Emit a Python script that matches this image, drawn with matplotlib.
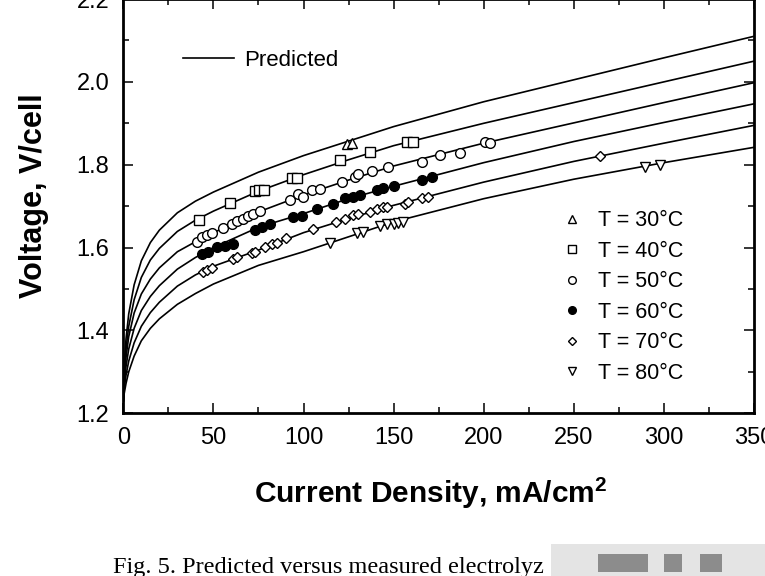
import numpy as np
import matplotlib.pyplot as plt
from matplotlib.lines import Line2D
from matplotlib.patches import Rectangle

plt.rcParams['font.family'] = ['Liberation Sans', 'DejaVu Sans']
plt.rcParams['mathtext.fontset'] = 'custom'
plt.rcParams['mathtext.rm'] = 'Liberation Sans'
plt.rcParams['mathtext.bf'] = 'Liberation Sans:bold'

# predicted curves (current density in mA/cm2, voltage in V/cell)
i_pred = [0, 0.5, 1.5, 3, 6, 10, 15, 20, 30, 40, 50, 75, 100, 125, 150, 200, 250, 300, 350]
v_pred_30 = [1.230, 1.320, 1.380, 1.440, 1.510, 1.568, 1.612, 1.642, 1.684, 1.712, 1.734, 1.782, 1.822, 1.857, 1.892, 1.952, 2.005, 2.058, 2.110]
v_pred_40 = [1.230, 1.302, 1.355, 1.410, 1.474, 1.528, 1.570, 1.598, 1.639, 1.666, 1.688, 1.736, 1.776, 1.812, 1.846, 1.900, 1.950, 2.000, 2.050]
v_pred_50 = [1.230, 1.285, 1.335, 1.385, 1.442, 1.488, 1.524, 1.551, 1.590, 1.614, 1.636, 1.686, 1.727, 1.763, 1.797, 1.852, 1.901, 1.950, 1.998]
v_pred_60 = [1.230, 1.272, 1.313, 1.355, 1.405, 1.448, 1.482, 1.508, 1.548, 1.576, 1.600, 1.649, 1.682, 1.718, 1.748, 1.805, 1.856, 1.902, 1.947]
v_pred_70 = [1.230, 1.260, 1.292, 1.326, 1.370, 1.410, 1.443, 1.468, 1.507, 1.534, 1.555, 1.594, 1.636, 1.670, 1.702, 1.758, 1.808, 1.852, 1.895]
v_pred_80 = [1.230, 1.248, 1.272, 1.300, 1.338, 1.375, 1.405, 1.428, 1.463, 1.489, 1.512, 1.557, 1.590, 1.626, 1.662, 1.718, 1.765, 1.805, 1.842]

# measured points
i_30 = [124, 127]
v_30 = [1.850, 1.853]
i_40 = [41.8, 59.2, 73, 75.5, 78, 93.4, 96.2, 120, 137, 157.3, 161]
v_40 = [1.667, 1.708, 1.736, 1.738, 1.738, 1.767, 1.769, 1.811, 1.831, 1.855, 1.855]
i_50 = [40.7, 43.4, 46.2, 49, 55.5, 60.1, 62.9, 66.6, 69.3, 72.1, 75.8, 92.5, 97.1, 99.9,
        104.6, 109.2, 121.2, 128.6, 130.4, 137.9, 147.1, 165.7, 175.8, 186.9, 200.8, 203.6]
v_50 = [1.614, 1.626, 1.630, 1.636, 1.648, 1.658, 1.665, 1.670, 1.676, 1.681, 1.689, 1.714, 1.729, 1.722,
        1.738, 1.742, 1.758, 1.770, 1.777, 1.784, 1.794, 1.806, 1.823, 1.828, 1.855, 1.853]
i_60 = [43.4, 47.1, 51.8, 56.4, 61, 73, 76.8, 81.4, 94.3, 99, 107.3, 116.6, 123, 127.7,
        131.4, 140.7, 144.3, 150, 165.7, 171.2]
v_60 = [1.585, 1.590, 1.602, 1.605, 1.609, 1.642, 1.649, 1.657, 1.674, 1.676, 1.694, 1.705, 1.719, 1.722,
        1.726, 1.738, 1.743, 1.748, 1.764, 1.770]
i_70 = [44.4, 46.2, 49, 61, 63.2, 71.2, 73, 78.6, 82.3, 85.1, 90.3, 105.4, 118.1, 123, 127.7, 130.4,
        136.9, 140.7, 144.3, 146.2, 156.4, 158.2, 165.7, 169.3, 264.7]
v_70 = [1.542, 1.546, 1.550, 1.572, 1.577, 1.586, 1.590, 1.602, 1.609, 1.612, 1.622, 1.646, 1.662, 1.668, 1.678, 1.680,
        1.686, 1.692, 1.697, 1.698, 1.706, 1.710, 1.719, 1.722, 1.820]
i_80 = [114.7, 129.6, 133.2, 142.5, 146.2, 150, 152.7, 155.4, 289.7, 297.7]
v_80 = [1.610, 1.634, 1.638, 1.652, 1.656, 1.657, 1.660, 1.662, 1.795, 1.799]

fig = plt.figure(figsize=(7.65, 5.76), dpi=100)
ax = fig.add_axes([0.1612, 0.2825, 0.8244, 0.7192])

for v in [v_pred_30, v_pred_40, v_pred_50, v_pred_60, v_pred_70, v_pred_80]:
    ax.plot(i_pred, v, color='black', lw=1.2, zorder=2)

mk = dict(ls='none', mfc='white', mec='black', mew=1.0, zorder=3)
ax.plot(i_30, v_30, marker='^', ms=7, **mk)
ax.plot(i_40, v_40, marker='s', ms=7, **mk)
ax.plot(i_50, v_50, marker='o', ms=7, **mk)
ax.plot(i_60, v_60, marker='o', ms=7, ls='none', mfc='black', mec='black', zorder=3)
ax.plot(i_70, v_70, marker='D', ms=5.5, **mk)
ax.plot(i_80, v_80, marker='v', ms=7, **mk)

ax.set_xlim(0, 350)
ax.set_ylim(1.2, 2.2)
ax.set_xticks(np.arange(0, 351, 50))
ax.set_xticks(np.arange(25, 350, 50), minor=True)
ax.set_yticks([1.2, 1.4, 1.6, 1.8, 2.0, 2.2])
ax.set_yticks([1.3, 1.5, 1.7, 1.9, 2.1], minor=True)
ax.set_yticklabels(['1.2', '1.4', '1.6', '1.8', '2.0', '2.2'])
ax.tick_params(which='both', direction='in', top=True, right=True, width=1.1, labelsize=17, pad=10)
ax.tick_params(which='major', length=7.5)
ax.tick_params(which='minor', length=4)
for s in ax.spines.values():
    s.set_linewidth(2.0)

ax.set_xlabel(r'Current Density, mA/cm$^\mathbf{2}$', fontsize=21.5, fontweight='bold')
ax.xaxis.set_label_coords(0.487, -0.15)
ax.set_ylabel('Voltage, V/cell', fontsize=22, fontweight='bold')
ax.yaxis.set_label_coords(-0.118, 0.525)

pred = Line2D([], [], color='black', lw=1.2)
leg1 = ax.legend([pred], ['Predicted'], loc='upper left', bbox_to_anchor=(0.095, 0.877),
                 frameon=False, fontsize=16, handlelength=2.3, handletextpad=0.45,
                 borderpad=0, borderaxespad=0)
ax.add_artist(leg1)

handles = [
    Line2D([], [], marker='^', ms=5.5, **mk),
    Line2D([], [], marker='s', ms=5.5, **mk),
    Line2D([], [], marker='o', ms=5.5, **mk),
    Line2D([], [], marker='o', ms=5.5, ls='none', mfc='black', mec='black'),
    Line2D([], [], marker='D', ms=4.2, **mk),
    Line2D([], [], marker='v', ms=5.5, **mk),
]
labels = ['T = 30°C', 'T = 40°C', 'T = 50°C', 'T = 60°C', 'T = 70°C', 'T = 80°C']
ax.legend(handles, labels, loc='upper left', bbox_to_anchor=(0.694, 0.49), frameon=False,
          fontsize=15.5, handlelength=1.0, handletextpad=0.72, labelspacing=0.44,
          borderpad=0, borderaxespad=0)

fig.text(113 / 765, 1 - 573 / 576, 'Fig. 5. Predicted versus measured electrolyz',
         family='Liberation Serif', fontsize=17.5, va='baseline')
fig.patches.append(Rectangle((551 / 765, 0), 214 / 765, 32 / 576, transform=fig.transFigure,
                             facecolor='#e4e4e4', edgecolor='none'))
for x0, w in [(598, 50), (664, 18), (700, 22)]:
    fig.patches.append(Rectangle((x0 / 765, 4 / 576), w / 765, 18 / 576, transform=fig.transFigure,
                                 facecolor='#8c8c8c', edgecolor='none'))

fig.savefig('out.png', dpi=100)
